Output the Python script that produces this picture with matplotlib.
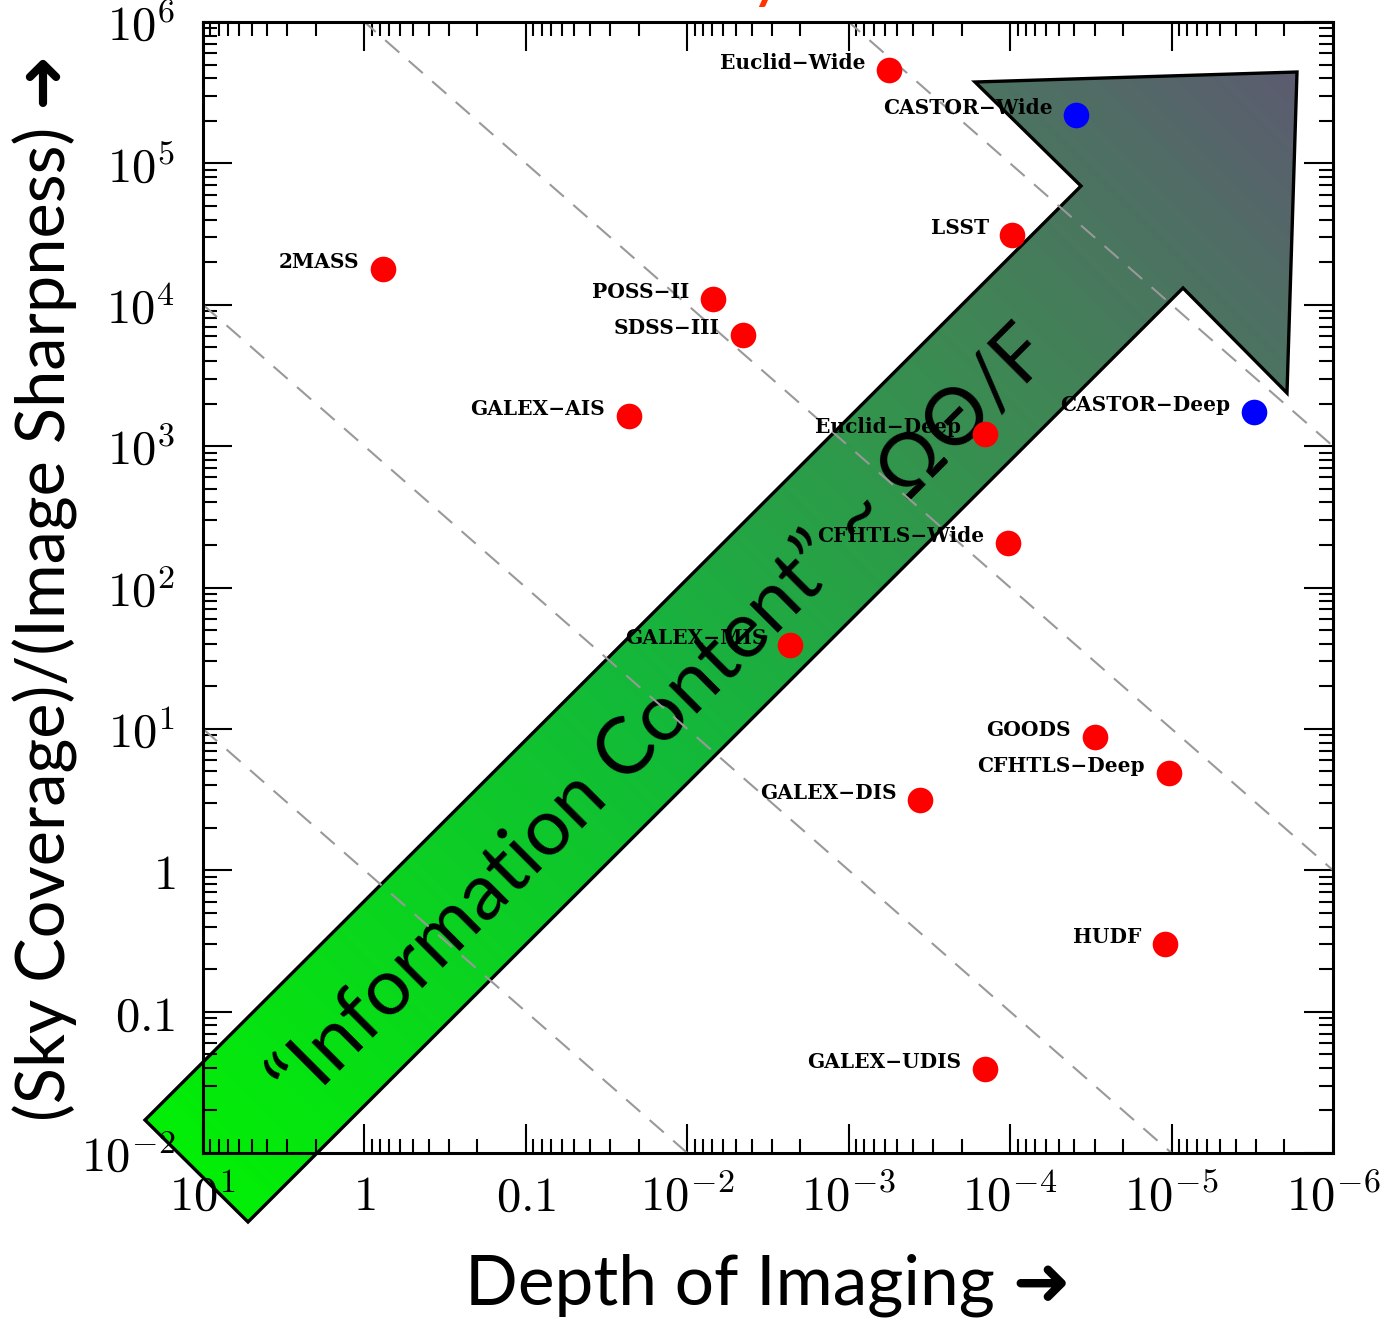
"""Survey comparison: depth of imaging vs. coverage/sharpness, with the big
'information content' arrow drawn over it."""
import matplotlib
import numpy as np

matplotlib.use("Agg")
import matplotlib.pyplot as plt  # noqa: E402
from matplotlib.colors import LinearSegmentedColormap  # noqa: E402
from matplotlib.patches import Polygon  # noqa: E402
from matplotlib.ticker import LogLocator, NullFormatter  # noqa: E402

plt.rcParams["mathtext.fontset"] = "cm"

# ---- data -----------------------------------------------------------------
SURVEYS = ["Euclid−Wide", "CASTOR−Wide", "LSST", "2MASS", "POSS−II", "SDSS−III",
           "GALEX−AIS", "CASTOR−Deep", "Euclid−Deep", "CFHTLS−Wide", "GALEX−MIS",
           "GOODS", "CFHTLS−Deep", "GALEX−DIS", "HUDF", "GALEX−UDIS"]
DEPTH = [5.6e-4, 3.9e-5, 9.7e-5, 0.77, 6.9e-3, 4.5e-3,
         2.3e-2, 3.1e-6, 1.44e-4, 1.03e-4, 2.3e-3,
         3.0e-5, 1.04e-5, 3.6e-4, 1.1e-5, 1.44e-4]
COVERAGE = [4.6e5, 2.2e5, 3.1e4, 1.8e4, 1.1e4, 6.1e3,
            1.64e3, 1.75e3, 1.22e3, 2.07e2, 39.0,
            8.8, 4.9, 3.15, 0.30, 0.039]
IS_CASTOR = [False, True, False, False, False, False,
             False, True, False, False, False,
             False, False, False, False, False]

GUIDE_NORMS = [1e0, 1e3, 1e6, 1e9]     # dashed lines  y = norm * x

XTICKS = [10, 1, 0.1, 1e-2, 1e-3, 1e-4, 1e-5, 1e-6]
XTICKLABELS = [r"$10^{1}$", r"$1$", r"$0.1$", r"$10^{-2}$", r"$10^{-3}$",
               r"$10^{-4}$", r"$10^{-5}$", r"$10^{-6}$"]
YTICKS = [1e-2, 0.1, 1, 10, 1e2, 1e3, 1e4, 1e5, 1e6]
YTICKLABELS = [r"$10^{-2}$", r"$0.1$", r"$1$", r"$10^{1}$", r"$10^{2}$",
               r"$10^{3}$", r"$10^{4}$", r"$10^{5}$", r"$10^{6}$"]

# ---- figure ---------------------------------------------------------------
W, H = 1387, 1320
fig = plt.figure(figsize=(W / 100, H / 100), dpi=100)
SANS = ["Lato", "DejaVu Sans"]

# overlay in pixel coords for the decorative arrow (sits under the data axes)
ov = fig.add_axes([0, 0, 1, 1], zorder=0)
ov.set_xlim(0, W)
ov.set_ylim(H, 0)
ov.axis("off")

arrow_xy = np.array([(145, 1120), (1081, 186), (975, 82), (1297, 72),
                     (1287, 393), (1183, 288), (248, 1222)])
arrow = Polygon(arrow_xy, closed=True, facecolor="none", edgecolor="black",
                lw=2.4, zorder=3, joinstyle="miter")
ov.add_patch(arrow)

cmap = LinearSegmentedColormap.from_list(
    "arrow", [(0.0, "#00f500"), (0.45, "#14b83a"), (0.75, "#3f8655"),
              (1.0, "#5c5c70")])
gx, gy = np.meshgrid(np.linspace(140, 1300, 300), np.linspace(65, 1230, 300))
t = ((gx - 145) - (gy - 1222)) / ((1297 - 145) - (72 - 1222))
img = ov.imshow(t, extent=(140, 1300, 1230, 65), cmap=cmap, vmin=0, vmax=1,
                aspect="auto", zorder=2, interpolation="bilinear")
img.set_clip_path(arrow)

ov.text(662, 718, "“Information Content” ~ ΩΘ/F", rotation=45,
        rotation_mode="anchor", ha="center", va="center", fontsize=57,
        family=SANS, zorder=4)

# cut-off slide title at the very top
fig.text(0.553, 1 + 5 / H, "y", color="#ff3300", fontsize=50, family=SANS,
         ha="center", va="baseline")

# ---- data axes ------------------------------------------------------------
ax = fig.add_axes([203 / W, 1 - 1153 / H, 1130 / W, 1131 / H], zorder=1)
ax.patch.set_visible(False)
ax.set_xscale("log")
ax.set_yscale("log")
ax.set_xlim(10, 1e-6)
ax.set_ylim(1e-2, 1e6)

xx = np.array([10, 1e-6])
for norm in GUIDE_NORMS:
    ax.plot(xx, norm * xx, color="#999999", lw=1.5, dashes=(9, 6), zorder=2)

depth = np.array(DEPTH)
cov = np.array(COVERAGE)
castor = np.array(IS_CASTOR)
ax.scatter(depth[~castor], cov[~castor], s=340, color="#ff0000", lw=0, zorder=4)
ax.scatter(depth[castor], cov[castor], s=340, color="#0000ff", lw=0, zorder=4)
for name, x, y in zip(SURVEYS, DEPTH, COVERAGE):
    ax.annotate(name, (x, y), xytext=(-17, 5), textcoords="offset points",
                ha="right", va="center", fontsize=14.5, family="DejaVu Serif",
                fontweight="bold", zorder=5)

ax.set_xticks(XTICKS, XTICKLABELS)
ax.set_yticks(YTICKS, YTICKLABELS)
for axis in (ax.xaxis, ax.yaxis):
    axis.set_minor_locator(LogLocator(base=10, subs=np.arange(2, 10), numticks=20))
    axis.set_minor_formatter(NullFormatter())
ax.tick_params(which="both", direction="in", top=True, right=True, width=1.5,
               labelsize=35)
ax.tick_params(which="major", length=21)
ax.tick_params(which="minor", length=10)
ax.tick_params(axis="x", pad=14)
ax.tick_params(axis="y", pad=20)
for sp in ax.spines.values():
    sp.set_linewidth(2.2)

ax.set_xlabel("Depth of Imaging ➜", fontsize=50, family=SANS, labelpad=24)
ax.set_ylabel("(Sky Coverage)/(Image Sharpness) ➜", fontsize=48, family=SANS,
              labelpad=2)

fig.savefig("out.png", dpi=100)
